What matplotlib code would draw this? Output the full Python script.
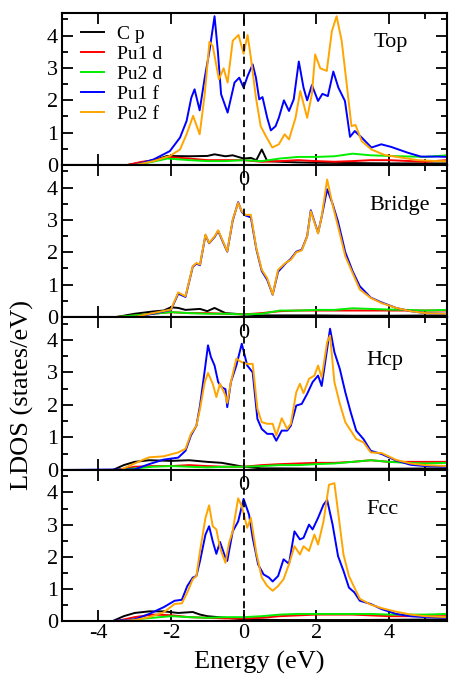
import matplotlib
matplotlib.use("Agg")
import matplotlib.pyplot as plt
from matplotlib.ticker import FixedLocator, MultipleLocator

plt.rcParams['font.family'] = ['Liberation Serif', 'DejaVu Serif']
plt.rcParams['axes.unicode_minus'] = False

# ---------------- Top ----------------
top_f1_e = [-5.0, -3.0, -2.48, -2.03, -1.75, -1.57, -1.44, -1.35, -1.21, -1.07, -0.94, -0.8,
            -0.71, -0.62, -0.44, -0.25, -0.12, 0.0, 0.11, 0.25, 0.34, 0.43, 0.52, 0.65, 0.75,
            0.88, 0.97, 1.11, 1.25, 1.38, 1.52, 1.65, 1.75, 1.88, 2.05, 2.17, 2.32, 2.47, 2.61,
            2.79, 2.93, 3.06, 3.25, 3.52, 3.79, 4.06, 4.52, 4.88, 5.34, 5.6]
top_f1 = [0.0, 0.0, 0.17, 0.43, 0.85, 1.36, 2.08, 2.34, 1.69, 2.7, 3.53, 4.6,
          3.53, 2.19, 1.62, 2.55, 2.7, 2.39, 2.75, 3.11, 2.7, 2.03, 2.1, 1.46, 1.07,
          1.2, 1.46, 2.0, 1.67, 2.03, 3.2, 2.39, 2.0, 2.47, 1.98, 2.2, 2.13, 2.89, 2.39,
          1.98, 0.87, 1.05, 0.85, 0.54, 0.64, 0.56, 0.38, 0.26, 0.26, 0.25]
top_f2_e = [-5.0, -3.0, -2.48, -2.03, -1.75, -1.57, -1.39, -1.21, -1.07, -0.94, -0.85, -0.68,
            -0.55, -0.44, -0.3, -0.14, 0.0, 0.11, 0.2, 0.34, 0.47, 0.61, 0.79, 0.97, 1.13,
            1.25, 1.43, 1.56, 1.75, 1.88, 1.97, 2.11, 2.29, 2.43, 2.56, 2.7, 2.84, 2.97, 3.08,
            3.25, 3.52, 3.88, 4.34, 4.79, 5.34, 5.6]
top_f2 = [0.0, 0.0, 0.12, 0.28, 0.48, 0.95, 1.52, 0.95, 2.19, 3.81, 3.68, 2.65,
          2.99, 2.55, 3.84, 4.02, 3.44, 4.02, 3.32, 2.08, 1.2, 0.9, 0.54, 0.64, 0.95,
          0.79, 1.46, 2.29, 1.46, 2.19, 3.42, 2.99, 2.91, 4.14, 4.6, 3.84, 2.49, 1.2, 1.24,
          0.74, 0.48, 0.31, 0.23, 0.15, 0.12, 0.12]
top_cp_e = [-5.0, -3.2, -2.8, -2.4, -2.1, -1.5, -1.0, -0.8, -0.5, -0.3, 0.0, 0.2, 0.35,
            0.5, 0.65, 1.0, 1.5, 2.0, 3.0, 4.0, 5.6]
top_cp = [0.0, 0.0, 0.08, 0.17, 0.28, 0.27, 0.28, 0.33, 0.27, 0.3, 0.2, 0.22, 0.15,
          0.48, 0.12, 0.1, 0.08, 0.07, 0.06, 0.05, 0.05]
top_d1_e = [-5.0, -3.2, -2.8, -2.4, -2.1, -1.5, -1.0, -0.5, 0.0, 0.5, 1.0, 1.5, 2.0,
            2.5, 3.0, 3.5, 4.0, 5.0, 5.6]
top_d1 = [0.0, 0.0, 0.1, 0.15, 0.25, 0.2, 0.15, 0.15, 0.15, 0.1, 0.12, 0.15, 0.12,
          0.1, 0.12, 0.15, 0.15, 0.1, 0.15]
top_d2_e = [-5.0, -3.0, -2.5, -2.1, -1.5, -1.0, -0.5, 0.0, 0.5, 1.0, 1.5, 2.0, 2.5,
            3.0, 3.5, 4.0, 5.0, 5.6]
top_d2 = [0.0, 0.0, 0.1, 0.2, 0.15, 0.12, 0.12, 0.15, 0.12, 0.2, 0.25, 0.25, 0.27,
          0.35, 0.3, 0.28, 0.25, 0.3]

# ---------------- Bridge ----------------
br_f_e = [-5.0, -3.0, -2.5, -2.0, -1.8, -1.6, -1.4, -1.3, -1.2, -1.05, -0.95, -0.8, -0.7,
          -0.55, -0.45, -0.3, -0.15, -0.05, 0.05, 0.2, 0.35, 0.5, 0.65, 0.8, 0.95, 1.15,
          1.3, 1.45, 1.6, 1.75, 1.85, 2.05, 2.15, 2.3, 2.45, 2.6, 2.8, 3.0, 3.2, 3.5, 3.8,
          4.2, 4.6, 5.0, 5.6]
br_f2 = [0.0, 0.0, 0.12, 0.23, 0.76, 0.64, 1.57, 1.67, 1.62, 2.55, 2.29, 2.49, 2.68,
         2.29, 2.03, 3.01, 3.53, 3.27, 3.16, 3.16, 2.13, 1.46, 1.2, 0.69, 1.46, 1.67,
         1.77, 2.0, 2.06, 2.49, 3.27, 2.58, 3.11, 4.25, 3.47, 2.8, 1.88, 1.36, 0.85, 0.59, 0.43,
         0.28, 0.18, 0.12, 0.1]
br_f1 = [0.0, 0.0, 0.1, 0.22, 0.72, 0.62, 1.55, 1.65, 1.6, 2.53, 2.28, 2.47, 2.66,
         2.27, 2.02, 2.98, 3.55, 3.25, 3.14, 3.08, 2.1, 1.42, 1.15, 0.69, 1.4, 1.65,
         1.8, 2.02, 2.08, 2.5, 3.3, 2.6, 3.1, 3.95, 3.5, 2.95, 2.0, 1.42, 0.95, 0.6, 0.45,
         0.28, 0.18, 0.12, 0.1]
br_cp_e = [-5.0, -3.5, -3.0, -2.5, -2.2, -2.0, -1.8, -1.6, -1.2, -1.0, -0.8, -0.5, 0.0,
           0.5, 1.0, 2.0, 3.0, 4.0, 5.6]
br_cp = [0.0, 0.0, 0.1, 0.17, 0.2, 0.3, 0.28, 0.22, 0.25, 0.18, 0.28, 0.12, 0.08,
         0.05, 0.05, 0.05, 0.04, 0.04, 0.05]
br_d_e = [-5.0, -3.5, -3.0, -2.5, -2.0, -1.5, -1.0, -0.5, 0.0, 0.5, 1.0, 1.5, 2.0, 2.5,
          3.0, 3.5, 4.0, 4.5, 5.0, 5.6]
br_d1 = [0.0, 0.0, 0.05, 0.1, 0.15, 0.12, 0.12, 0.1, 0.08, 0.12, 0.18, 0.2, 0.2, 0.2,
         0.2, 0.2, 0.2, 0.2, 0.2, 0.2]
br_d2 = [0.0, 0.0, 0.05, 0.1, 0.15, 0.12, 0.1, 0.1, 0.08, 0.1, 0.2, 0.2, 0.22, 0.22,
         0.27, 0.25, 0.23, 0.22, 0.2, 0.22]

# ---------------- Hcp ----------------
hcp_f_e = [-5.0, -3.0, -2.6, -2.2, -1.8, -1.6, -1.45, -1.3, -1.2, -1.07, -0.98, -0.9,
           -0.8, -0.7, -0.6, -0.5, -0.45, -0.35, -0.2, -0.05, 0.1, 0.25, 0.38, 0.5, 0.65,
           0.8, 0.9, 1.05, 1.2, 1.3, 1.45, 1.6, 1.75, 1.9, 2.05, 2.15, 2.3, 2.38, 2.5, 2.65,
           2.8, 2.95, 3.1, 3.3, 3.5, 3.8, 4.2, 4.6, 5.0, 5.6]
hcp_f1 = [0.0, 0.02, 0.18, 0.32, 0.38, 0.59, 1.06, 1.36, 1.98, 3.06, 3.83, 3.47,
          3.21, 2.7, 2.54, 2.48, 1.93, 2.7, 3.21, 3.88, 3.21, 3.0, 1.57, 1.26, 1.11,
          1.11, 0.9, 1.21, 1.21, 1.36, 1.98, 2.03, 2.34, 2.7, 2.9, 2.58, 3.72, 4.34, 3.62, 3.1,
          2.39, 1.77, 1.21, 0.95, 0.59, 0.49, 0.29, 0.16, 0.12, 0.1]
hcp_f2_e = [-5.0, -3.4, -2.8, -2.6, -2.2, -1.8, -1.6, -1.45, -1.3, -1.2, -1.07, -0.98,
            -0.85, -0.75, -0.65, -0.5, -0.45, -0.35, -0.2, -0.05, 0.1, 0.25, 0.38, 0.5,
            0.65, 0.8, 0.9, 1.05, 1.2, 1.3, 1.45, 1.55, 1.65, 1.8, 1.95, 2.05, 2.15, 2.3,
            2.38, 2.5, 2.65, 2.8, 2.95, 3.1, 3.3, 3.5, 3.8, 4.2, 4.6, 5.0, 5.6]
hcp_f2 = [0.0, 0.0, 0.3, 0.39, 0.42, 0.54, 0.65, 1.11, 1.36, 1.88, 2.7, 2.98,
          2.65, 2.24, 2.65, 2.29, 2.06, 2.7, 3.42, 3.31, 3.26, 3.26, 1.88, 1.47,
          1.42, 1.42, 1.06, 1.59, 1.26, 1.42, 2.39, 2.65, 2.36, 2.8, 2.9, 3.21, 2.84, 3.93,
          4.13, 2.7, 2.03, 1.47, 1.21, 0.95, 0.85, 0.54, 0.52, 0.31, 0.2, 0.15, 0.12]
hcp_cp_e = [-5.0, -3.6, -3.3, -3.0, -2.6, -2.0, -1.5, -1.0, -0.6, -0.5, 0.0, 0.5, 1.0,
            2.0, 3.0, 4.0, 5.6]
hcp_cp = [0.0, 0.0, 0.15, 0.25, 0.3, 0.28, 0.3, 0.25, 0.22, 0.2, 0.1, 0.05, 0.05,
          0.04, 0.04, 0.04, 0.05]
hcp_d_e = [-5.0, -3.5, -3.0, -2.5, -2.0, -1.5, -1.0, -0.5, 0.0, 0.5, 1.0, 1.5, 2.0, 2.5,
           3.0, 3.5, 4.0, 4.5, 5.0, 5.6]
hcp_d1 = [0.0, 0.0, 0.1, 0.12, 0.12, 0.15, 0.12, 0.1, 0.1, 0.15, 0.18, 0.2, 0.22, 0.22,
          0.25, 0.3, 0.25, 0.25, 0.25, 0.25]
hcp_d2 = [0.0, 0.0, 0.05, 0.1, 0.12, 0.1, 0.08, 0.1, 0.1, 0.12, 0.15, 0.15, 0.18, 0.2,
          0.25, 0.3, 0.25, 0.22, 0.2, 0.22]

# ---------------- Fcc ----------------
fcc_f1_e = [-5.0, -3.6, -3.0, -2.6, -2.2, -1.9, -1.7, -1.55, -1.4, -1.3, -1.2, -1.05,
            -0.95, -0.85, -0.75, -0.65, -0.5, -0.45, -0.3, -0.15, 0.0, 0.15, 0.25, 0.4,
            0.55, 0.7, 0.8, 0.95, 1.1, 1.25, 1.4, 1.55, 1.65, 1.8, 1.9, 2.05, 2.2, 2.3, 2.45,
            2.6, 2.75, 2.9, 3.05, 3.2, 3.5, 3.8, 4.2, 4.6, 5.0, 5.6]
fcc_f1 = [0.0, 0.0, 0.05, 0.22, 0.43, 0.63, 0.66, 1.09, 1.35, 1.4, 1.87, 2.69,
          2.95, 2.48, 2.09, 2.46, 1.97, 1.87, 2.79, 3.1, 3.8, 3.31, 2.59, 1.76,
          1.45, 1.35, 1.23, 1.4, 1.92, 1.78, 2.79, 2.54, 2.59, 3.0, 2.85, 3.21, 3.62, 3.77, 3.0,
          2.02, 1.56, 1.04, 0.89, 0.63, 0.53, 0.37, 0.22, 0.15, 0.12, 0.1]
fcc_f2_e = [-5.0, -3.4, -3.0, -2.6, -2.2, -1.9, -1.7, -1.55, -1.4, -1.3, -1.2, -1.05,
            -0.95, -0.85, -0.75, -0.65, -0.5, -0.4, -0.3, -0.15, -0.05, 0.1, 0.2, 0.35,
            0.5, 0.65, 0.8, 0.95, 1.1, 1.25, 1.4, 1.55, 1.65, 1.8, 1.95, 2.05, 2.2, 2.35,
            2.5, 2.6, 2.75, 2.9, 3.05, 3.2, 3.5, 3.8, 4.2, 4.6, 5.0, 5.6]
fcc_f2 = [0.0, 0.0, 0.03, 0.12, 0.27, 0.53, 0.55, 0.89, 1.3, 1.4, 2.18, 3.21,
          3.6, 2.95, 2.85, 2.28, 1.81, 2.43, 2.8, 3.82, 3.57, 2.9, 3.21, 2.12,
          1.35, 1.09, 0.94, 1.09, 1.3, 1.77, 2.33, 2.07, 2.33, 2.18, 2.69, 2.38, 3.1, 4.24,
          4.29, 3.41, 2.07, 1.4, 1.04, 0.69, 0.51, 0.4, 0.29, 0.2, 0.15, 0.12]
fcc_cp_e = [-5.0, -3.6, -3.3, -3.0, -2.6, -2.2, -1.8, -1.4, -1.2, -1.0, 0.0, 1.0, 3.0, 5.6]
fcc_cp = [0.0, 0.0, 0.15, 0.25, 0.3, 0.3, 0.25, 0.28, 0.2, 0.15, 0.05, 0.03, 0.03, 0.05]
fcc_d1_e = [-5.0, -3.5, -3.0, -2.5, -2.0, -1.5, -1.0, -0.5, 0.0, 0.5, 1.0, 2.0, 3.0, 4.0,
            5.0, 5.6]
fcc_d1 = [0.0, 0.0, 0.12, 0.2, 0.18, 0.12, 0.1, 0.08, 0.08, 0.1, 0.15, 0.2, 0.2, 0.15,
          0.15, 0.15]
fcc_d2_e = [-5.0, -3.4, -3.0, -2.5, -2.0, -1.5, -1.0, -0.5, 0.0, 0.5, 1.0, 1.5, 2.0, 2.5,
            3.0, 3.5, 4.0, 5.0, 5.6]
fcc_d2 = [0.0, 0.0, 0.05, 0.1, 0.15, 0.12, 0.1, 0.12, 0.12, 0.15, 0.2, 0.22, 0.22, 0.22,
          0.22, 0.22, 0.2, 0.2, 0.22]

panel_names = ['Top', 'Bridge', 'Hcp', 'Fcc']
series_labels = ['C p', 'Pu1 d', 'Pu2 d', 'Pu1 f', 'Pu2 f']
series_colors = ['black', '#ff0000', '#00ee00', '#0000ff', '#ffa500']
name_pos = [(4.04, 3.78), (4.3, 3.46), (3.9, 3.36), (3.82, 3.46)]

panels = [
    [(top_cp_e, top_cp), (top_d1_e, top_d1), (top_d2_e, top_d2), (top_f1_e, top_f1), (top_f2_e, top_f2)],
    [(br_cp_e, br_cp), (br_d_e, br_d1), (br_d_e, br_d2), (br_f_e, br_f1), (br_f_e, br_f2)],
    [(hcp_cp_e, hcp_cp), (hcp_d_e, hcp_d1), (hcp_d_e, hcp_d2), (hcp_f_e, hcp_f1), (hcp_f2_e, hcp_f2)],
    [(fcc_cp_e, fcc_cp), (fcc_d1_e, fcc_d1), (fcc_d2_e, fcc_d2), (fcc_f1_e, fcc_f1), (fcc_f2_e, fcc_f2)],
]

fig = plt.figure(figsize=(4.49, 6.77), dpi=100)
left, right = 62 / 449, 447 / 449
tops = [13, 165, 317, 470, 621]

for i, (name, series) in enumerate(zip(panel_names, panels)):
    y0 = 1 - tops[i + 1] / 677
    h = (tops[i + 1] - tops[i]) / 677
    ax = fig.add_axes([left, y0, right - left, h])
    for (e, v), lab, col in zip(series, series_labels, series_colors):
        ax.plot(e, v, color=col, lw=1.4, label=lab)
    ax.axvline(0, color='black', ls=(0, (4, 3)), lw=1.3)
    ax.set_xlim(-5, 5.6)
    ax.set_ylim(0, 4.7)
    ax.xaxis.set_major_locator(FixedLocator([-4, -2, 0, 2, 4]))
    ax.xaxis.set_minor_locator(FixedLocator([5]))
    ax.yaxis.set_major_locator(MultipleLocator(1))
    ax.yaxis.set_minor_locator(MultipleLocator(0.5))
    ax.tick_params(which='both', direction='in', top=True, right=True, width=1.3)
    ax.tick_params(which='major', length=8)
    ax.tick_params(which='minor', length=4.5)
    ax.tick_params(axis='y', labelsize=16, pad=3)
    ax.tick_params(axis='x', labelsize=16, pad=2)
    for sp in ax.spines.values():
        sp.set_linewidth(1.5)
    ax.text(name_pos[i][0], name_pos[i][1], name, fontsize=16, ha='center', va='center')
    if i < 3:
        ax.tick_params(axis='x', labelbottom=False)
    if i > 0:
        ax.text(0, 0.895, '0', transform=ax.get_xaxis_transform(), fontsize=16,
                ha='center', va='center')
    else:
        ax.legend(loc='upper left', bbox_to_anchor=(0.03, 0.97), frameon=False,
                  fontsize=14, handlelength=1.15, handletextpad=0.7, labelspacing=0.12,
                  borderaxespad=0.0)

fig.text(0.051, 0.4165, 'LDOS (states/eV)', rotation=90, fontsize=19,
         ha='center', va='center')
fig.text(0.578, 1 - 669 / 677, 'Energy (eV)', fontsize=19, ha='center', va='baseline')

fig.savefig('out.png', dpi=100)
